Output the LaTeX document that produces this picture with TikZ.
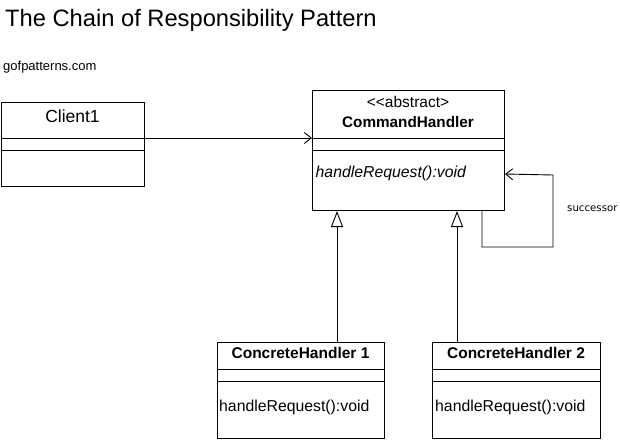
\documentclass[tikz,border=0pt]{standalone}
\usepackage{fontspec}
\setmainfont{Liberation Sans}
\newfontfamily\succfont{DejaVu Sans}
\usetikzlibrary{arrows.meta}
\begin{document}
\begin{tikzpicture}[x=1pt,y=-1pt,
  cls/.style={draw,line width=1pt,inner sep=0pt,anchor=north west},
  div/.style={line width=1pt},
  txt/.style={inner sep=0pt},
  assoc/.style={line width=0.9pt,-{Straight Barb[length=7pt,width=11pt,line width=0.9pt]}},
  inherit/.style={line width=0.9pt,-{Triangle[open,length=16pt,width=12pt,line width=0.9pt,fill=white]}}]
\useasboundingbox (0,0) rectangle (620,439);
% title
\node[txt,anchor=base west,font=\fontsize{23.7}{26}\selectfont] (title) at (5,26) {The Chain of Responsibility Pattern};
\node[txt,anchor=base west,font=\fontsize{13}{15}\selectfont] (site) at (3,70) {gofpatterns.com};
% Client1
\node[cls,minimum width=143pt,minimum height=84pt] (client) at (1,102) {};
\draw[div] (client.west |- 0,138) -- (client.east |- 0,138);
\draw[div] (client.west |- 0,150) -- (client.east |- 0,150);
\node[txt,anchor=base,font=\fontsize{17.5}{20}\selectfont] (clientname) at (72.5,122) {Client1};
% CommandHandler
\node[cls,minimum width=192pt,minimum height=120pt] (ch) at (312,90) {};
\draw[div] (ch.west |- 0,138) -- (ch.east |- 0,138);
\draw[div] (ch.west |- 0,150) -- (ch.east |- 0,150);
\node[txt,anchor=base,font=\fontsize{15.5}{18}\selectfont] (chst) at (408,107) {{<}{<}abstract{>}};
\node[txt,anchor=base,font=\fontsize{15.3}{18}\selectfont\bfseries] (chname) at (408,127) {CommandHandler};
\node[txt,anchor=base west,font=\fontsize{15.8}{18}\selectfont\itshape] (chop) at (315.5,177) {handleRequest():void};
% ConcreteHandler 1
\node[cls,minimum width=167pt,minimum height=96pt] (c1) at (217,342) {};
\draw[div] (c1.west |- 0,369) -- (c1.east |- 0,369);
\draw[div] (c1.west |- 0,381) -- (c1.east |- 0,381);
\node[txt,anchor=base,font=\fontsize{15.5}{18}\selectfont\bfseries] (c1name) at (300.5,358.5) {ConcreteHandler 1};
\node[txt,anchor=base west,font=\fontsize{15.8}{18}\selectfont] (c1op) at (219,411.5) {handleRequest():void};
% ConcreteHandler 2
\node[cls,minimum width=168pt,minimum height=96pt] (c2) at (432,342) {};
\draw[div] (c2.west |- 0,369) -- (c2.east |- 0,369);
\draw[div] (c2.west |- 0,381) -- (c2.east |- 0,381);
\node[txt,anchor=base,font=\fontsize{15.5}{18}\selectfont\bfseries] (c2name) at (516,358.5) {ConcreteHandler 2};
\node[txt,anchor=base west,font=\fontsize{15.8}{18}\selectfont] (c2op) at (435,411.5) {handleRequest():void};
% association
\draw[assoc] (client.east |- 0,138) -- (ch.west |- 0,138);
% self loop
\coordinate (loopstart) at ([xshift=-23pt]ch.south east);
\draw[assoc] (loopstart) -- ++(0,36) -- ++(71,0) -- ++(0,-72) -- (ch.east |- 0,174);
\node[txt,anchor=base west,font=\succfont\fontsize{10.2}{12}\selectfont] (succ) at (567,211) {successor};
% inheritance
\coordinate (i1) at ([xshift=120pt]c1.north west);
\coordinate (i2) at ([xshift=25pt]c2.north west);
\draw[inherit] (i1) -- (i1 |- ch.south);
\draw[inherit] (i2) -- (i2 |- ch.south);
\end{tikzpicture}
\end{document}
